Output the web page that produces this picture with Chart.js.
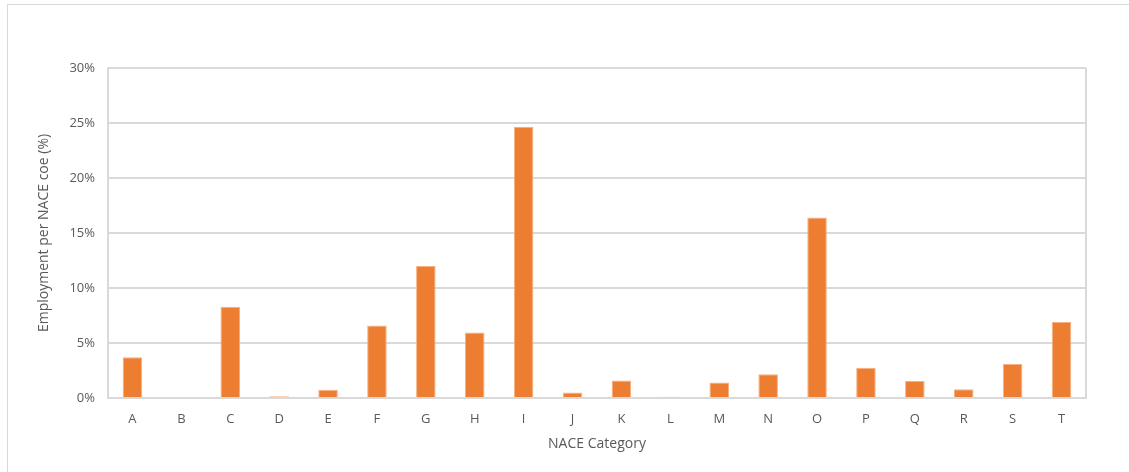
<!DOCTYPE html>
<html>
<head>
<meta charset="utf-8">
<script src="https://cdn.jsdelivr.net/npm/chart.js@4/dist/chart.umd.min.js"></script>
<style>
  html, body { margin: 0; padding: 0; background: #fff; overflow: hidden; }
  #frame { position: absolute; left: 7px; top: 4px; width: 1200px; height: 600px;
           border: 1px solid #d9d9d9; box-sizing: border-box; }
  #wrap { position: absolute; left: 0; top: 0; width: 1129px; height: 472px; }
</style>
</head>
<body>
<div id="frame"></div>
<div id="wrap"><canvas id="chart" width="1129" height="472"></canvas></div>
<script>
// NACE sections and their share of employment (%)
const categories = ['A','B','C','D','E','F','G','H','I','J','K','L','M','N','O','P','Q','R','S','T'];
const employmentShare = [3.7, 0, 8.3, 0.15, 0.75, 6.6, 12.0, 5.95, 24.65, 0.5, 1.6, 0.12, 1.4, 2.15, 16.4, 2.75, 1.55, 0.8, 3.1, 6.9];
const yTicks = [0, 5, 10, 15, 20, 25, 30];

const gridColor = '#d9d9d9';
const textColor = '#595959';
const fontFamily = "'Open Sans', 'Liberation Sans', sans-serif";

// Draws the right-hand edge of the plot frame
const plotFrame = {
  id: 'plotFrame',
  afterDraw(chart) {
    const { ctx, chartArea: a } = chart;
    ctx.save();
    ctx.strokeStyle = gridColor;
    ctx.lineWidth = 2;
    ctx.beginPath();
    ctx.moveTo(a.right, a.top);
    ctx.lineTo(a.right, a.bottom);
    ctx.stroke();
    ctx.restore();
  }
};

new Chart(document.getElementById('chart'), {
  type: 'bar',
  data: {
    labels: categories,
    datasets: [{
      data: employmentShare,
      backgroundColor: '#ed7d31',
      borderColor: '#f4b183',
      borderWidth: { top: 1, left: 1, right: 1, bottom: 0 },
      categoryPercentage: 0.8,
      barPercentage: 0.5
    }]
  },
  options: {
    responsive: false,
    animation: false,
    layout: { padding: { left: 0, top: 68, right: 43, bottom: 0 } },
    plugins: { legend: { display: false }, tooltip: { enabled: false } },
    scales: {
      x: {
        afterFit(s) { s.height = 74; },
        grid: { display: false, drawTicks: false },
        border: { display: true, color: gridColor, width: 2 },
        ticks: { color: textColor, font: { family: fontFamily, size: 13 }, padding: 13 },
        title: { display: true, text: 'NACE Category', color: textColor,
                 font: { family: fontFamily, size: 14 }, padding: { top: 8, bottom: 20 } }
      },
      y: {
        min: 0, max: 30,
        afterFit(s) { s.width = 108; },
        afterBuildTicks(s) { s.ticks = yTicks.map(v => ({ value: v })); },
        grid: { color: gridColor, lineWidth: 2, drawTicks: false },
        border: { display: true, color: gridColor, width: 2 },
        ticks: { color: textColor, font: { family: fontFamily, size: 13 }, padding: 13,
                 callback: v => v + '%' },
        title: { display: true, text: 'Employment per NACE coe (%)', color: textColor,
                 font: { family: fontFamily, size: 14 }, padding: { top: 36, bottom: 4 } }
      }
    }
  },
  plugins: [plotFrame]
});
</script>
</body>
</html>
